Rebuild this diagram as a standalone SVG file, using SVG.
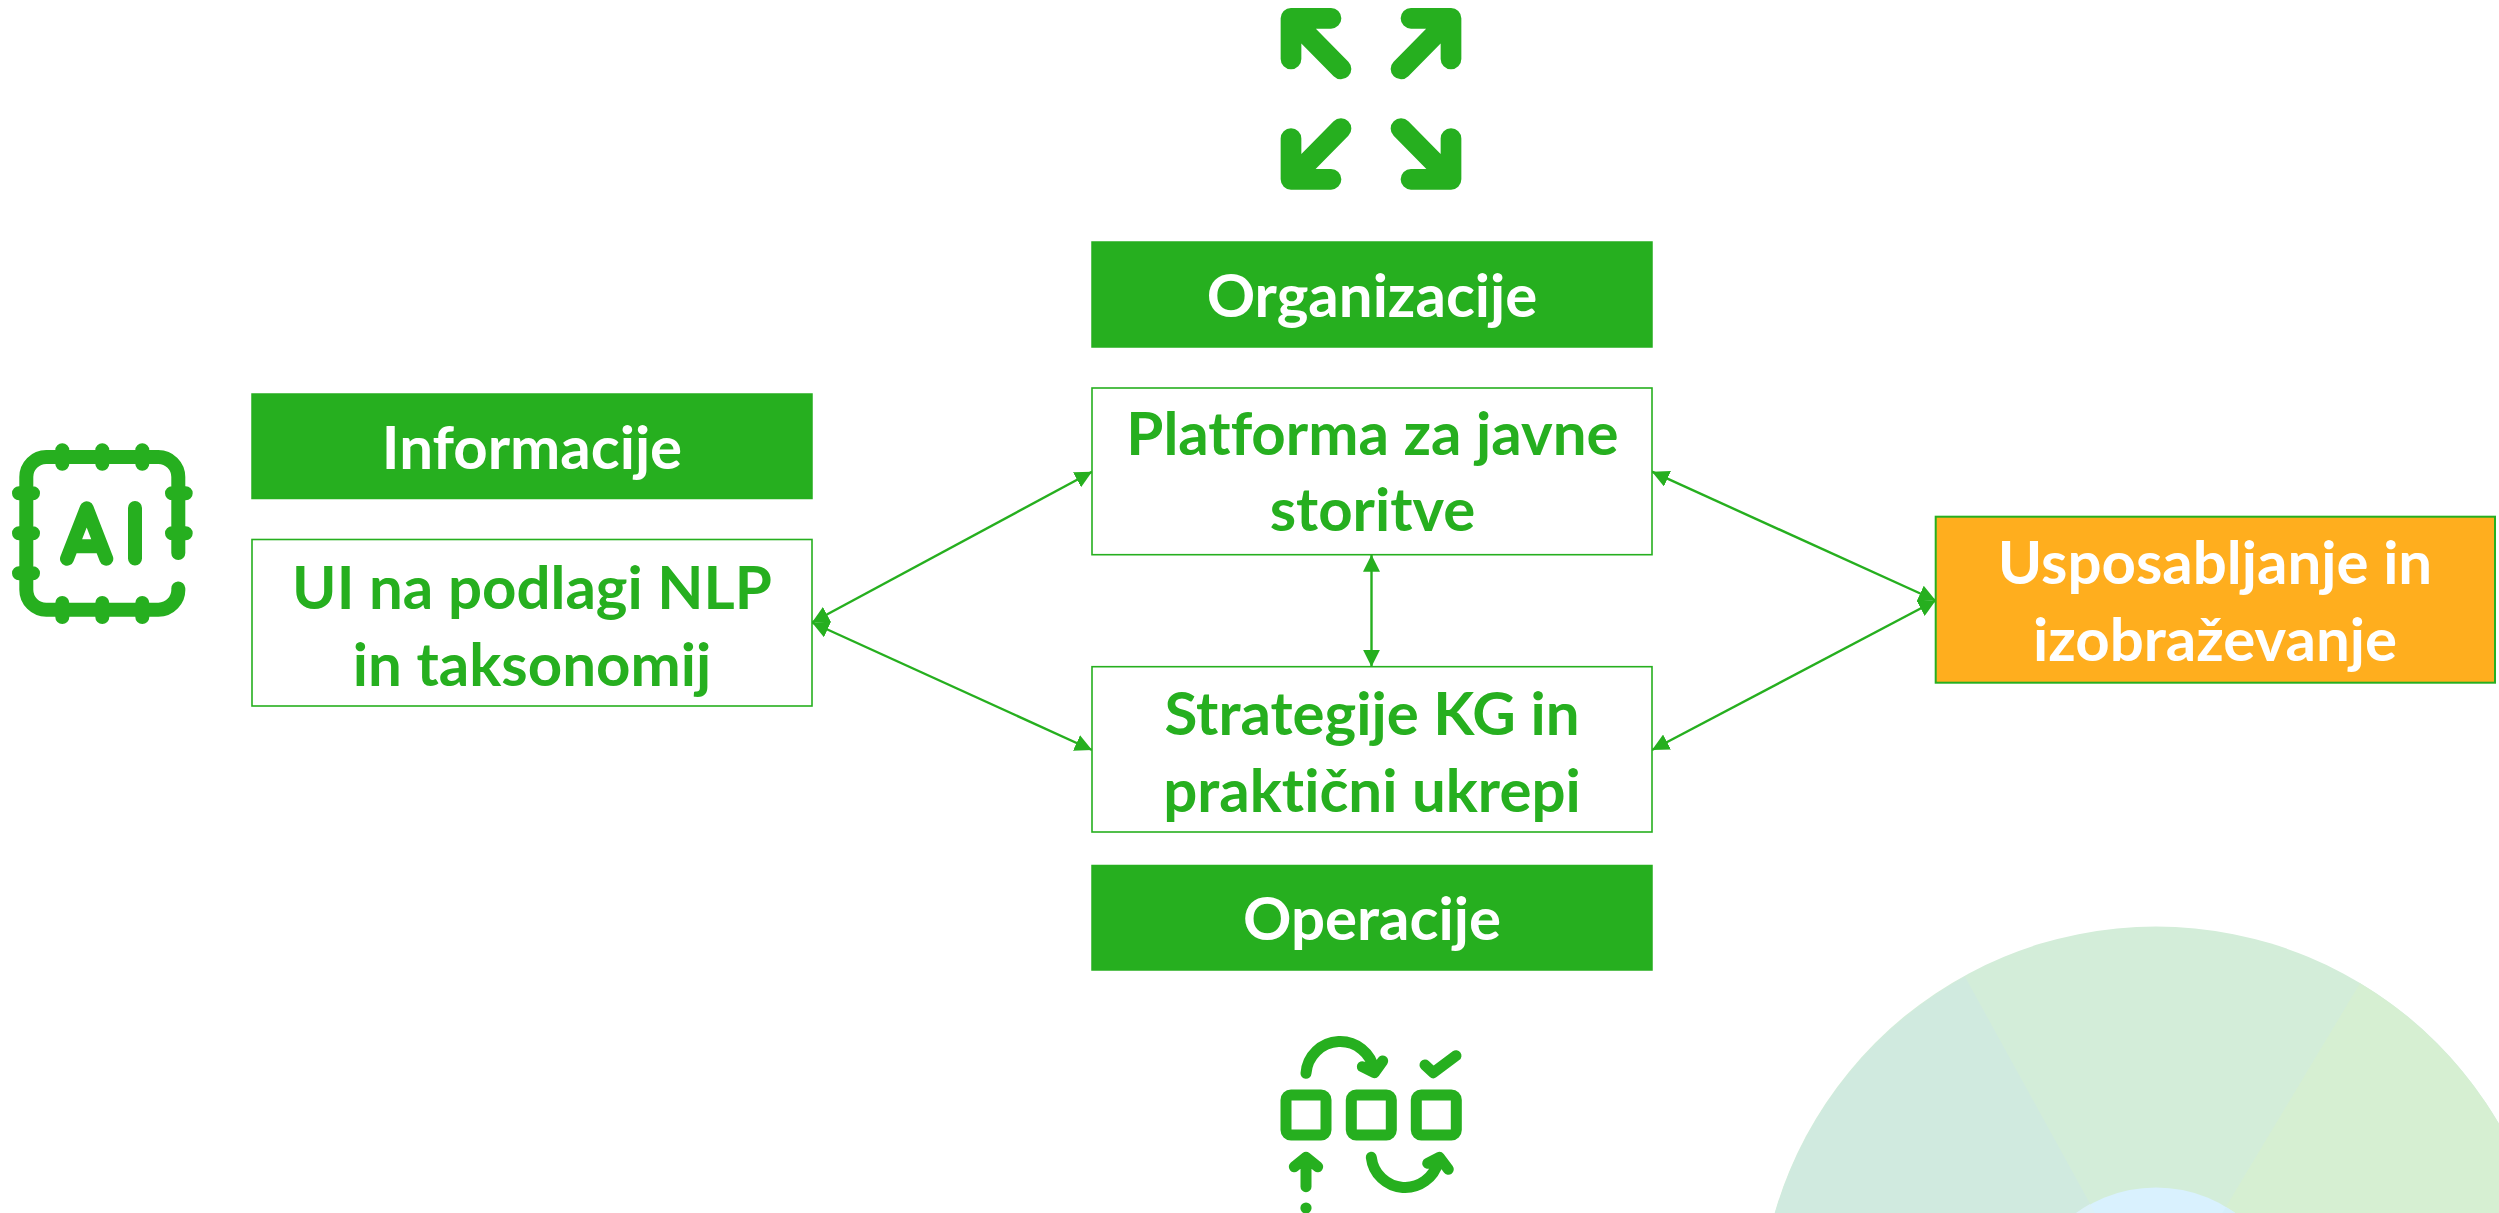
<svg xmlns="http://www.w3.org/2000/svg" xmlns:xlink="http://www.w3.org/1999/xlink" width="2499" height="1213" viewBox="0 0 2499 1213">
<style>
text{font-family:"Lato","Open Sans","Liberation Sans",sans-serif;font-weight:700;font-size:60px;text-anchor:middle;font-variant-ligatures:none}
.w{fill:#fff}.g{fill:#26af1f}
.hdr{fill:#26af1f;stroke:#26af1f;stroke-width:1.5}
.box{fill:#fff;stroke:#26af1f;stroke-width:1.6}
.org{fill:#ffae1e;stroke:#26af1f;stroke-width:2}
.ic{fill:none;stroke:#26af1f;stroke-linecap:round;stroke-linejoin:round}
.cn{fill:none;stroke:#26af1f;stroke-width:2.4;marker-start:url(#ah);marker-end:url(#ah)}
</style>
<defs>
<marker id="ah" viewBox="0 0 17 17" refX="17" refY="8.5" markerWidth="17" markerHeight="17" markerUnits="userSpaceOnUse" orient="auto-start-reverse"><path d="M0 0L17 8.5L0 17Z" fill="#26af1f"/></marker>
<g id="exp"><path class="ic" stroke-width="20.7" d="M1291 59V18.3H1331M1291 18.3L1341 69"/></g>
</defs>
<rect width="2499" height="1213" fill="#fff"/>
<g id="background">
<circle cx="2156" cy="1323.5" r="397" fill="#d3edd9"/>
<path d="M2156 1323.5L1965 976.7A397 397 0 0 0 1759 1323.5Z" fill="#d0eadf"/>
<path d="M2156 1323.5L2360 983.3A397 397 0 0 1 2553 1323.5Z" fill="#d6efd2"/>
<circle cx="2156" cy="1323.5" r="136" fill="#d9f1fe"/>
<path d="M2156 1323.5L2090 1204.1A136 136 0 0 0 2020 1323.5Z" fill="#dcf1f8"/>
<path d="M2156 1323.5L2226 1206.9A136 136 0 0 1 2292 1323.5Z" fill="#d5effb"/>
</g>
<g id="connectors">
<path class="cn" d="M812 622.5L1092 471.7"/>
<path class="cn" d="M812 622.5L1092 750"/>
<path class="cn" d="M1652 471.7L1935.7 600.5"/>
<path class="cn" d="M1652 750L1935.7 600.5"/>
<path class="cn" d="M1371.5 554.7V666.7"/>
</g>
<g id="node-informacije-header"><rect class="hdr" x="252" y="394" width="560" height="104.5"/><text class="w" x="532" y="468.5">Informacije</text></g>
<g id="node-ui"><rect class="box" x="252" y="539.5" width="560" height="166.5"/><text class="g" x="532" y="608.5">UI na podlagi NLP</text><text class="g" x="532" y="685.5">in taksonomij</text></g>
<g id="node-organizacije-header"><rect class="hdr" x="1092" y="242" width="560" height="105"/><text class="w" x="1372" y="316.5">Organizacije</text></g>
<g id="node-platforma"><rect class="box" x="1092" y="388" width="560" height="166.7"/><text class="g" x="1372.5" y="454.5">Platforma za javne</text><text class="g" x="1372.5" y="531">storitve</text></g>
<g id="node-strategije"><rect class="box" x="1092" y="666.7" width="560" height="165.3"/><text class="g" x="1372" y="734.5">Strategije KG in</text><text class="g" x="1372" y="811.5">praktični ukrepi</text></g>
<g id="node-operacije-header"><rect class="hdr" x="1092" y="865.5" width="560" height="104.5"/><text class="w" x="1372" y="939.5">Operacije</text></g>
<g id="node-usposabljanje"><rect class="org" x="1935.7" y="516.7" width="559.3" height="166"/><text class="w" x="2215" y="583.5">Usposabljanje in</text><text class="w" x="2215" y="660.5">izobraževanje</text></g>
<g id="icon-expand">
<use xlink:href="#exp"/>
<use xlink:href="#exp" transform="matrix(-1 0 0 1 2742 0)"/>
<use xlink:href="#exp" transform="matrix(1 0 0 -1 0 197.6)"/>
<use xlink:href="#exp" transform="matrix(-1 0 0 -1 2742 197.6)"/>
</g>
<g id="icon-ai">
<path class="ic" stroke-width="14" d="M178.3 553V477A20 20 0 0 0 158.3 457H46.3A20 20 0 0 0 26.3 477V589.7A20 20 0 0 0 46.3 609.7H158.3A20 20 0 0 0 178.3 588.5M62.3 450.3V463.7M102.3 450.3V463.7M142.3 450.3V463.7M62.3 603V617M102.3 603V617M142.3 603V617M19 493.3H33M19 533.3H33M19 573.3H33M172 493.3H185.7M172 533.3H185.7M67 558.7L86.7 508.3L106.3 558.7M74 546.3H99M135 508V558.5"/>
</g>
<g id="icon-process">
<path class="ic" stroke-width="11" d="M1306 1073.3A34.3 34.3 0 0 1 1374 1070M1362.3 1066.7L1374.3 1072.7L1382.7 1061M1425 1065L1433.3 1072.7L1456 1055.7M1306 1186.7V1158M1294.3 1166.7L1306 1157.3L1317.7 1166.7M1371.3 1157.3A34 34 0 0 0 1438 1162M1427.7 1163.3L1439.3 1157.3L1448.3 1169.3"/>
<rect class="ic" stroke-width="11" x="1286" y="1095" width="40" height="40" rx="5"/>
<rect class="ic" stroke-width="11" x="1351.3" y="1095" width="40" height="40" rx="5"/>
<rect class="ic" stroke-width="11" x="1416.3" y="1095" width="40" height="40" rx="5"/>
<circle cx="1306" cy="1208" r="5.6" fill="#26af1f"/>
</g>
</svg>
